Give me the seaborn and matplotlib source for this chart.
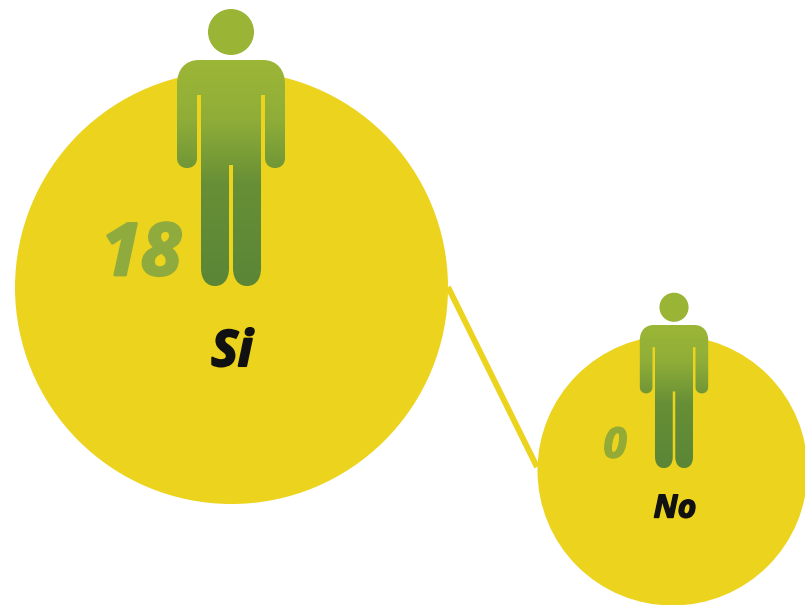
import matplotlib
matplotlib.use('Agg')
import matplotlib.pyplot as plt
import matplotlib.patheffects as pe
import numpy as np
import pandas as pd
import seaborn as sns
from matplotlib.colors import LinearSegmentedColormap
from matplotlib.path import Path
from matplotlib.patches import PathPatch, Circle

# the two answers
answers = ['Si', 'No']
counts = ['18', '0']
circle_x = [230.5, 672]
circle_y = [286.5, 470]
circle_r = [216.5, 135]

YELLOW = '#ECD31D'
person_cmap = LinearSegmentedColormap.from_list(
    'person', [(0, '#9CB636'), (0.25, '#90AE38'), (0.55, '#678F36'), (1, '#5A8636')])

sns.set_theme(style='white')
plt.rcParams['font.family'] = ['Open Sans', 'DejaVu Sans']

W, H = 805, 605
fig = plt.figure(figsize=(W / 100, H / 100), dpi=100)
ax = fig.add_axes([0, 0, 1, 1])

df = pd.DataFrame({'x': circle_x, 'y': circle_y, 'r': circle_r, 'answer': answers})

# line between the circles
ax.plot([448, 537], [287, 467], color=YELLOW, lw=4.2, solid_capstyle='butt', zorder=1)

# scatter size is in points^2, radius comes in pixels
for _, row in df.iterrows():
    sns.scatterplot(x=[row['x']], y=[row['y']], s=(2 * row['r'] * 0.72) ** 2, color=YELLOW,
                    linewidth=0, ax=ax, zorder=2, legend=False)


def person_path(cx, top, k):
    # outline from the shoulders down, half drawn then mirrored
    M, L, C = Path.MOVETO, Path.LINETO, Path.CURVE4
    half = [
        (0, 0, M), (32, 0, L),
        (46, 0, C), (54, 10, C), (54, 24, C),  # shoulder
        (54, 98, L),
        (54, 104, C), (50, 108, C), (44, 108, C),  # hand
        (38, 108, C), (34, 104, C), (34, 98, C),
        (34, 35, L), (30, 35, L), (30, 208, L),
        (30, 220, C), (24, 226, C), (16, 226, C),  # foot
        (8, 226, C), (2, 220, C), (2, 208, C),
        (2, 105, L), (0, 105, L),
    ]
    pts = [(x, y) for x, y, c in half]
    codes = [c for x, y, c in half]
    # mirror the other side
    rev = [(-x, y) for x, y in reversed(pts[:-1])]
    rev_codes = list(reversed(codes[1:]))
    pts = pts + rev
    codes = codes + rev_codes
    pts = [(cx + x * k, top + y * k) for x, y in pts]
    return Path(pts, codes)


def draw_person(cx, top, k):
    grad = np.linspace(0, 1, 200).reshape(-1, 1)
    im = ax.imshow(grad, cmap=person_cmap, aspect='auto', zorder=3,
                   extent=[cx - 56 * k, cx + 56 * k, top + 226 * k, top])
    patch = PathPatch(person_path(cx, top, k), transform=ax.transData, fc='none', ec='none')
    ax.add_patch(patch)
    im.set_clip_path(patch)
    ax.add_patch(Circle((cx, top - 28 * k), 23 * k, fc='#9AB535', ec='none', zorder=3))


def label(x, y, s, size, color, stroke):
    t = ax.text(x, y, s, fontsize=size, fontweight='bold', style='italic', color=color,
                ha='center', va='center', zorder=4)
    t.set_path_effects([pe.withStroke(linewidth=stroke, foreground=color)])


draw_person(231, 60, 1)
draw_person(674, 325, 0.633)

label(141, 256, counts[0], 52, '#8FAB3E', 2.0)
label(615, 447, counts[1], 30, '#93AB36', 1.2)
label(232, 353, answers[0], 36, '#111111', 1.5)
label(675, 509, answers[1], 23, '#111111', 1.0)

ax.set_xlim(0, W)
ax.set_ylim(H, 0)
ax.axis('off')

plt.savefig('out.png', dpi=100, facecolor='white')
